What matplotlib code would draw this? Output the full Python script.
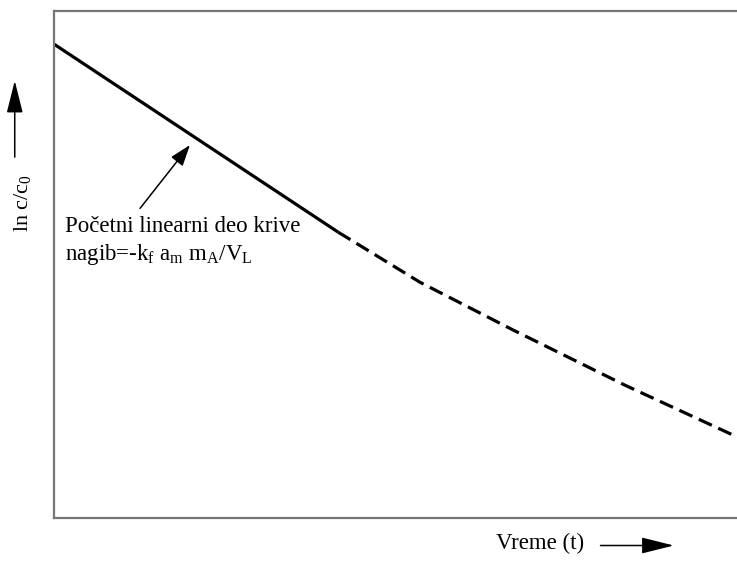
import matplotlib
matplotlib.use("Agg")
import matplotlib.pyplot as plt

plt.rcParams['font.family'] = ['Liberation Serif', 'DejaVu Serif']
plt.rcParams['mathtext.fontset'] = 'custom'
plt.rcParams['mathtext.rm'] = 'Liberation Serif'
plt.rcParams['mathtext.it'] = 'Liberation Serif:italic'

# initial linear part of ln(c/c0) vs time
t_lin = [0.0, 4.16]
y_lin = [9.35, 5.64]
# later part of the curve (dashed)
t_curve = [4.16, 5.36, 6.72, 8.36, 10.0]
y_curve = [5.64, 4.65, 3.71, 2.62, 1.60]

label_text = 'Početni linearni deo krive\nnagib=-k$_\\mathrm{f}$ a$_\\mathrm{m}$ m$_\\mathrm{A}$/V$_\\mathrm{L}$'

fig = plt.figure(figsize=(7.37, 5.65), dpi=100)
ax = fig.add_axes([0.0733, 0.0832, 0.94, 0.897])

ax.plot(t_lin, y_lin, color='black', lw=2.3, solid_capstyle='butt')
ax.plot(t_curve, y_curve, color='black', lw=2.3, linestyle=(0, (4.5, 2.2)), dash_capstyle='butt')

ax.set_xlim(0, 10 * 0.94 * 737 / 683)
ax.set_ylim(0, 10)
ax.set_xticks([])
ax.set_yticks([])
for s in ['left', 'bottom', 'top']:
    ax.spines[s].set_color('#777777')
    ax.spines[s].set_linewidth(1.6)
ax.spines['right'].set_visible(False)

# pointer to the linear section
ax.annotate('', xy=(1.99, 7.36), xytext=(1.26, 6.11),
            arrowprops=dict(arrowstyle='-|>,head_length=1.3,head_width=0.45',
                            color='black', lw=1.1, shrinkA=0, shrinkB=0))
ax.text(0.16, 5.45, label_text, fontsize=16.5, va='center', ha='left',
        linespacing=1.3)

# axis labels with arrows
fig.text(0.030, 0.64, 'ln c/c$_\\mathrm{0}$', rotation=90, fontsize=16,
         ha='center', va='center')
fig.add_artist(matplotlib.patches.FancyArrowPatch(
    (0.020, 0.717), (0.020, 0.862), transform=fig.transFigure,
    arrowstyle='-|>,head_length=1.0,head_width=0.25', color='black', lw=1.1,
    mutation_scale=20))

fig.text(0.733, 0.02, 'Vreme (t)', fontsize=16.5, ha='center', va='bottom')
fig.add_artist(matplotlib.patches.FancyArrowPatch(
    (0.811, 0.0345), (0.918, 0.0345), transform=fig.transFigure,
    arrowstyle='-|>,head_length=1.0,head_width=0.25', color='black', lw=1.1,
    mutation_scale=20))

fig.savefig('out.png', dpi=100)
